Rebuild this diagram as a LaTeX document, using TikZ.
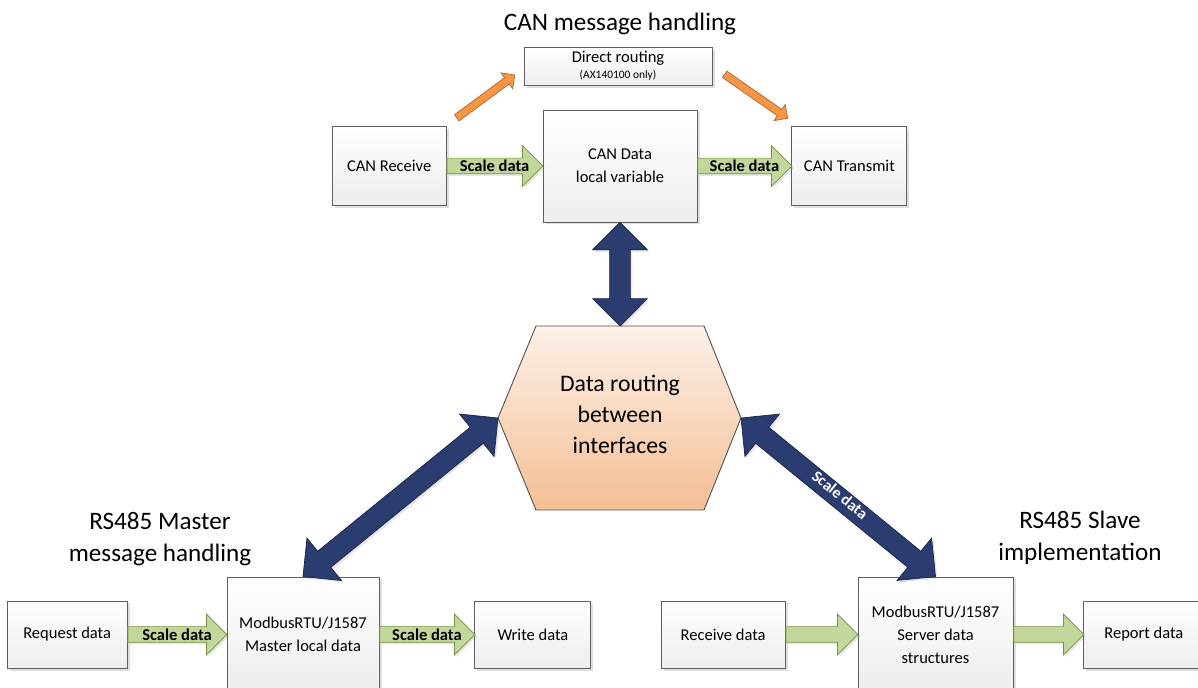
\documentclass[tikz,border=0pt]{standalone}
\usepackage{fontspec}
\setmainfont{Carlito}
\usepackage{xcolor}
\usepackage{tikz}
\usetikzlibrary{shapes.arrows, arrows.meta, positioning, calc, shadows}

\definecolor{boxline}{RGB}{95,95,95}
\definecolor{greenfill}{RGB}{195,214,155}
\definecolor{greenline}{RGB}{118,146,60}
\definecolor{orangefill}{RGB}{247,150,70}
\definecolor{orangeline}{RGB}{182,100,40}
\definecolor{bluefill}{RGB}{42,60,112}
\definecolor{blueline}{RGB}{25,35,70}
\definecolor{hextop}{RGB}{253,241,232}
\definecolor{hexbot}{RGB}{244,190,148}

\begin{document}
\begin{tikzpicture}[
    node distance=1.9cm,
    box/.style={draw=boxline, rectangle, top color=white, bottom color=black!7, align=center, font=\fontsize{9.4}{13}\selectfont, line width=0.5pt, drop shadow={shadow xshift=0.05cm, shadow yshift=-0.05cm, opacity=0.25}},
    heading/.style={align=center, font=\fontsize{14.3}{18}\selectfont},
    hubtext/.style={align=center, font=\fontsize{13.5}{17.8}\selectfont},
    hexa/.style={draw=black!70, line width=0.5pt, top color=hextop, bottom color=hexbot},
    garrow/.style={single arrow, draw=greenline, fill=greenfill, inner xsep=0pt, inner ysep=0.15cm, single arrow head extend=0.25cm, single arrow tip angle=90, anchor=tail, drop shadow={shadow xshift=0.04cm, shadow yshift=-0.04cm, opacity=0.2}},
    oarrow/.style={single arrow, draw=orangeline, fill=orangefill, inner xsep=0pt, inner ysep=0.07cm, single arrow head extend=0.12cm, single arrow tip angle=90, anchor=tail},
    barrow/.style={double arrow, draw=blueline, fill=bluefill, inner xsep=0pt, inner ysep=0.1cm, text height=0.15cm, text depth=0.05cm, double arrow head extend=0.34cm, double arrow tip angle=90, font=\bfseries\fontsize{9}{10}\selectfont, text=white, drop shadow={shadow xshift=0.04cm, shadow yshift=-0.04cm, opacity=0.2}},
    scalelbl/.style={font=\bfseries\fontsize{9.4}{11}\selectfont, inner sep=0pt}
]
\clip (0,0) rectangle (23.96,13.74);

% CAN side
\node[box, minimum width=3.08cm, minimum height=2.24cm] (candata) at (12.40,10.42) {CAN Data\\local variable};
\node[box, minimum width=2.28cm, minimum height=1.58cm, left=1.92cm of candata] (canrx) {CAN Receive};
\node[box, minimum width=2.30cm, minimum height=1.58cm, right=1.88cm of candata] (cantx) {CAN Transmit};
\node[box, minimum width=3.76cm, minimum height=0.76cm, inner ysep=1pt, above=0.48cm of candata, xshift=-0.04cm] (direct) {Direct routing\\[-4pt]{\fontsize{6.5}{8}\selectfont (AX140100 only)}};
\node[heading] (cantitle) at (12.40,13.26) {CAN message handling};

% routing hub
\coordinate (hubc) at (12.40,5.38);
\coordinate (hexW) at ($(hubc)+(-2.44,0)$);
\coordinate (hexNW) at ($(hubc)+(-1.68,1.84)$);
\coordinate (hexN) at ($(hubc)+(0,1.84)$);
\coordinate (hexNE) at ($(hubc)+(1.68,1.84)$);
\coordinate (hexE) at ($(hubc)+(2.42,0)$);
\coordinate (hexSE) at ($(hubc)+(1.68,-1.84)$);
\coordinate (hexSW) at ($(hubc)+(-1.68,-1.84)$);
\draw[hexa] (hexW) -- (hexNW) -- (hexNE) -- (hexE) -- (hexSE) -- (hexSW) -- cycle;
\node[hubtext] (hub) at ([yshift=0.07cm]hubc) {Data routing\\between\\interfaces};

% RS485 master
\node[box, minimum width=3.04cm, minimum height=2.3cm] (master) at (6.06,1.05) {ModbusRTU/J1587\\Master local data};
\node[box, minimum width=2.40cm, minimum height=1.34cm, left=1.98cm of master] (req) {Request data};
\node[box, minimum width=2.32cm, minimum height=1.34cm, right=1.90cm of master] (wr) {Write data};
\node[heading] (mastertitle) at (3.20,2.96) {RS485 Master\\message handling};

% RS485 slave
\node[box, minimum width=3.10cm, minimum height=2.3cm] (server) at (18.71,1.05) {ModbusRTU/J1587\\Server data\\structures};
\node[box, minimum width=2.48cm, minimum height=1.34cm, left=1.44cm of server] (rcv) {Receive data};
\node[box, minimum width=2.40cm, minimum height=1.34cm, right=1.40cm of server] (rep) {Report data};
\node[heading] (slavetitle) at (21.60,2.98) {RS485 Slave\\implementation};

% green data arrows
\foreach \a/\b in {canrx/candata, candata/cantx, req/master, master/wr, rcv/server, server/rep}
    \path let \p1=($(\b.west)-(\a.east)$) in (\a.east) node[garrow, minimum height=\x1] {};
\foreach \a/\b in {canrx/candata, candata/cantx, req/master, master/wr}
    \node[scalelbl] at ($(\a.east)!0.5!(\b.west)$) {Scale data};

% direct routing arrows
\path let \p1=($([shift={(-0.18,-0.18)}]direct.west)-([shift={(0.20,0.16)}]canrx.north east)$) in
    ([shift={(0.20,0.16)}]canrx.north east) node[oarrow, minimum height={veclen(\x1,\y1)}, rotate={atan2(\y1,\x1)}] {};
\path let \p1=($([shift={(-0.08,0.16)}]cantx.north west)-([shift={(0.24,-0.16)}]direct.east)$) in
    ([shift={(0.24,-0.16)}]direct.east) node[oarrow, minimum height={veclen(\x1,\y1)}, rotate={atan2(\y1,\x1)}] {};

% links to the hub
\path let \p1=($(hexN)-(candata.south)$) in
    ($(candata.south)!0.5!(hexN)$) node[barrow, minimum height={veclen(\x1,\y1)}, rotate={atan2(\y1,\x1)}] {};
\path let \p1=($(master.north)-(hexW)$) in
    ($(hexW)!0.5!(master.north)$) node[barrow, minimum height={veclen(\x1,\y1)}, rotate={atan2(\y1,\x1)}] {};
\path let \p1=($(server.north)-(hexE)$) in
    ($(hexE)!0.5!(server.north)$) node[barrow, minimum height={veclen(\x1,\y1)}, rotate={atan2(\y1,\x1)}] {Scale data};
\end{tikzpicture}
\end{document}
